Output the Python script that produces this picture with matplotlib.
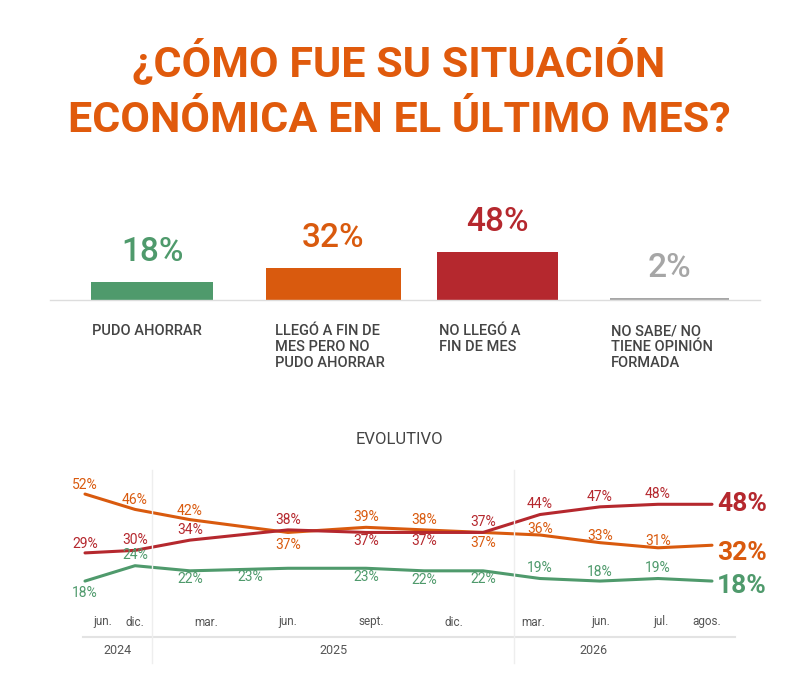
import matplotlib.pyplot as plt

# top bars
cats = ['PUDO AHORRAR', 'LLEGÓ A FIN DE\nMES PERO NO\nPUDO AHORRAR', 'NO LLEGÓ A\nFIN DE MES', 'NO SABE/ NO\nTIENE OPINIÓN\nFORMADA']
vals = [18, 32, 48, 2]
cols = ['#4f9a6c', '#d95a0e', '#b5282e', '#a6a6a6']

# evolution
months = ['jun.', 'dic.', 'mar.', 'jun.', 'sept.', 'dic.', 'mar.', 'jun.', 'jul.', 'agos.']
tickx = [103, 135, 206, 288, 371, 454, 533, 601, 661, 707]
xpos = [85, 135, 190, 288, 366, 424, 483, 540, 600, 658, 712]
orange = [52, 46, 42, 37, 39, 38, 37, 36, 33, 31, 32]
red = [29, 30, 34, 38, 37, 37, 37, 44, 47, 48, 48]
green = [18, 24, 22, 23, 23, 22, 22, 19, 18, 19, 18]
years = ['2024', '2025', '2026']

plt.rcParams['font.family'] = ['Roboto', 'DejaVu Sans']
fig = plt.figure(figsize=(7.98, 6.87), dpi=100)
W, H = 798, 687
px = lambda y: 1 - y / H

fig.text(0.5, px(62), '¿CÓMO FUE SU SITUACIÓN', ha='center', va='center', fontsize=31,
         fontweight='bold', color='#e05a0c')
fig.text(0.5, px(120), 'ECONÓMICA EN EL ÚLTIMO MES?', ha='center', va='center', fontsize=31,
         fontweight='bold', color='#e05a0c')

# bar axes: baseline at y=300px
axb = fig.add_axes([0, px(300), 1, 100 / H])
axb.set_xlim(0, W)
axb.set_ylim(0, 100)
axb.axis('off')
bx = [152, 333, 497, 669]
bw = [122, 135, 121, 119]
axb.bar(bx, vals, width=bw, color=cols)
axb.plot([50, 760], [0, 0], color='#dddddd', lw=1, clip_on=False)
for x, v, c, t in zip(bx, vals, cols, cats):
    axb.text(x, v + 14, f'{v}%', ha='center', va='bottom', fontsize=24, color=c, fontweight='medium')
    axb.text(x - 58 if t != cats[0] else x - 60, -24, t, ha='left', va='top', fontsize=10.5,
             color='#444444', fontweight='medium', linespacing=1.2)

fig.text(0.5, px(440), 'EVOLUTIVO', ha='center', va='center', fontsize=12, color='#444444')

# line axes
ax = fig.add_axes([0, px(600), 1, 130 / H])
ax.set_xlim(0, W)
ax.set_ylim(10.6, 61.4)
ax.axis('off')
for s, c in [(orange, '#d95a0e'), (red, '#b5282e'), (green, '#4f9a6c')]:
    ax.plot(xpos, s, color=c, lw=2.2, solid_joinstyle='round', solid_capstyle='round')

def put(x, v, c, dy):
    ax.text(x, v + dy, f'{v}%', ha='center', va='center', fontsize=10, color=c)

for x, v, dy in zip(xpos[:-1], orange[:-1], [3.5, 3.5, 3.5, -5, 4, 4, -4, 2.5, 2.5, 2.5]):
    put(x, v, '#d95a0e', dy)
for x, v, dy in zip(xpos[:-1], red[:-1], [3.5, 4, 4, 4, -3.5, -3.5, 4, 4, 4, 4]):
    put(x, v, '#b5282e', dy)
for x, v, dy in zip([85, 135, 190, 250, 366, 424, 483, 540, 600, 658], green[:-1],
                    [-4.5, 4, -3, -3.5, -3.5, -3.5, -3, 4, 3.5, 4]):
    put(x, v, '#4f9a6c', dy)
for v, c, dy in [(48, '#b5282e', 0), (32, '#d95a0e', -3), (18, '#4f9a6c', -2)]:
    ax.text(xpos[-1] + 5, v + dy, f'{v}%', ha='left', va='center', fontsize=19,
            fontweight='bold', color=c)

# axis text, separators
for x, m in zip(tickx, months):
    fig.text(x / W, px(622), m, ha='center', va='center', fontsize=8.5, color='#555555')
fig.add_artist(plt.Line2D([83 / W, 735 / W], [px(637)] * 2, color='#e3e3e3', lw=1.5))
for x in [152, 514]:
    fig.add_artist(plt.Line2D([x / W, x / W], [px(470), px(663)], color='#eeeeee', lw=1))
for x, y in zip([117, 333, 593], years):
    fig.text(x / W, px(650), y, ha='center', va='center', fontsize=9, color='#555555')

fig.savefig('out.png', dpi=100, facecolor='white')
